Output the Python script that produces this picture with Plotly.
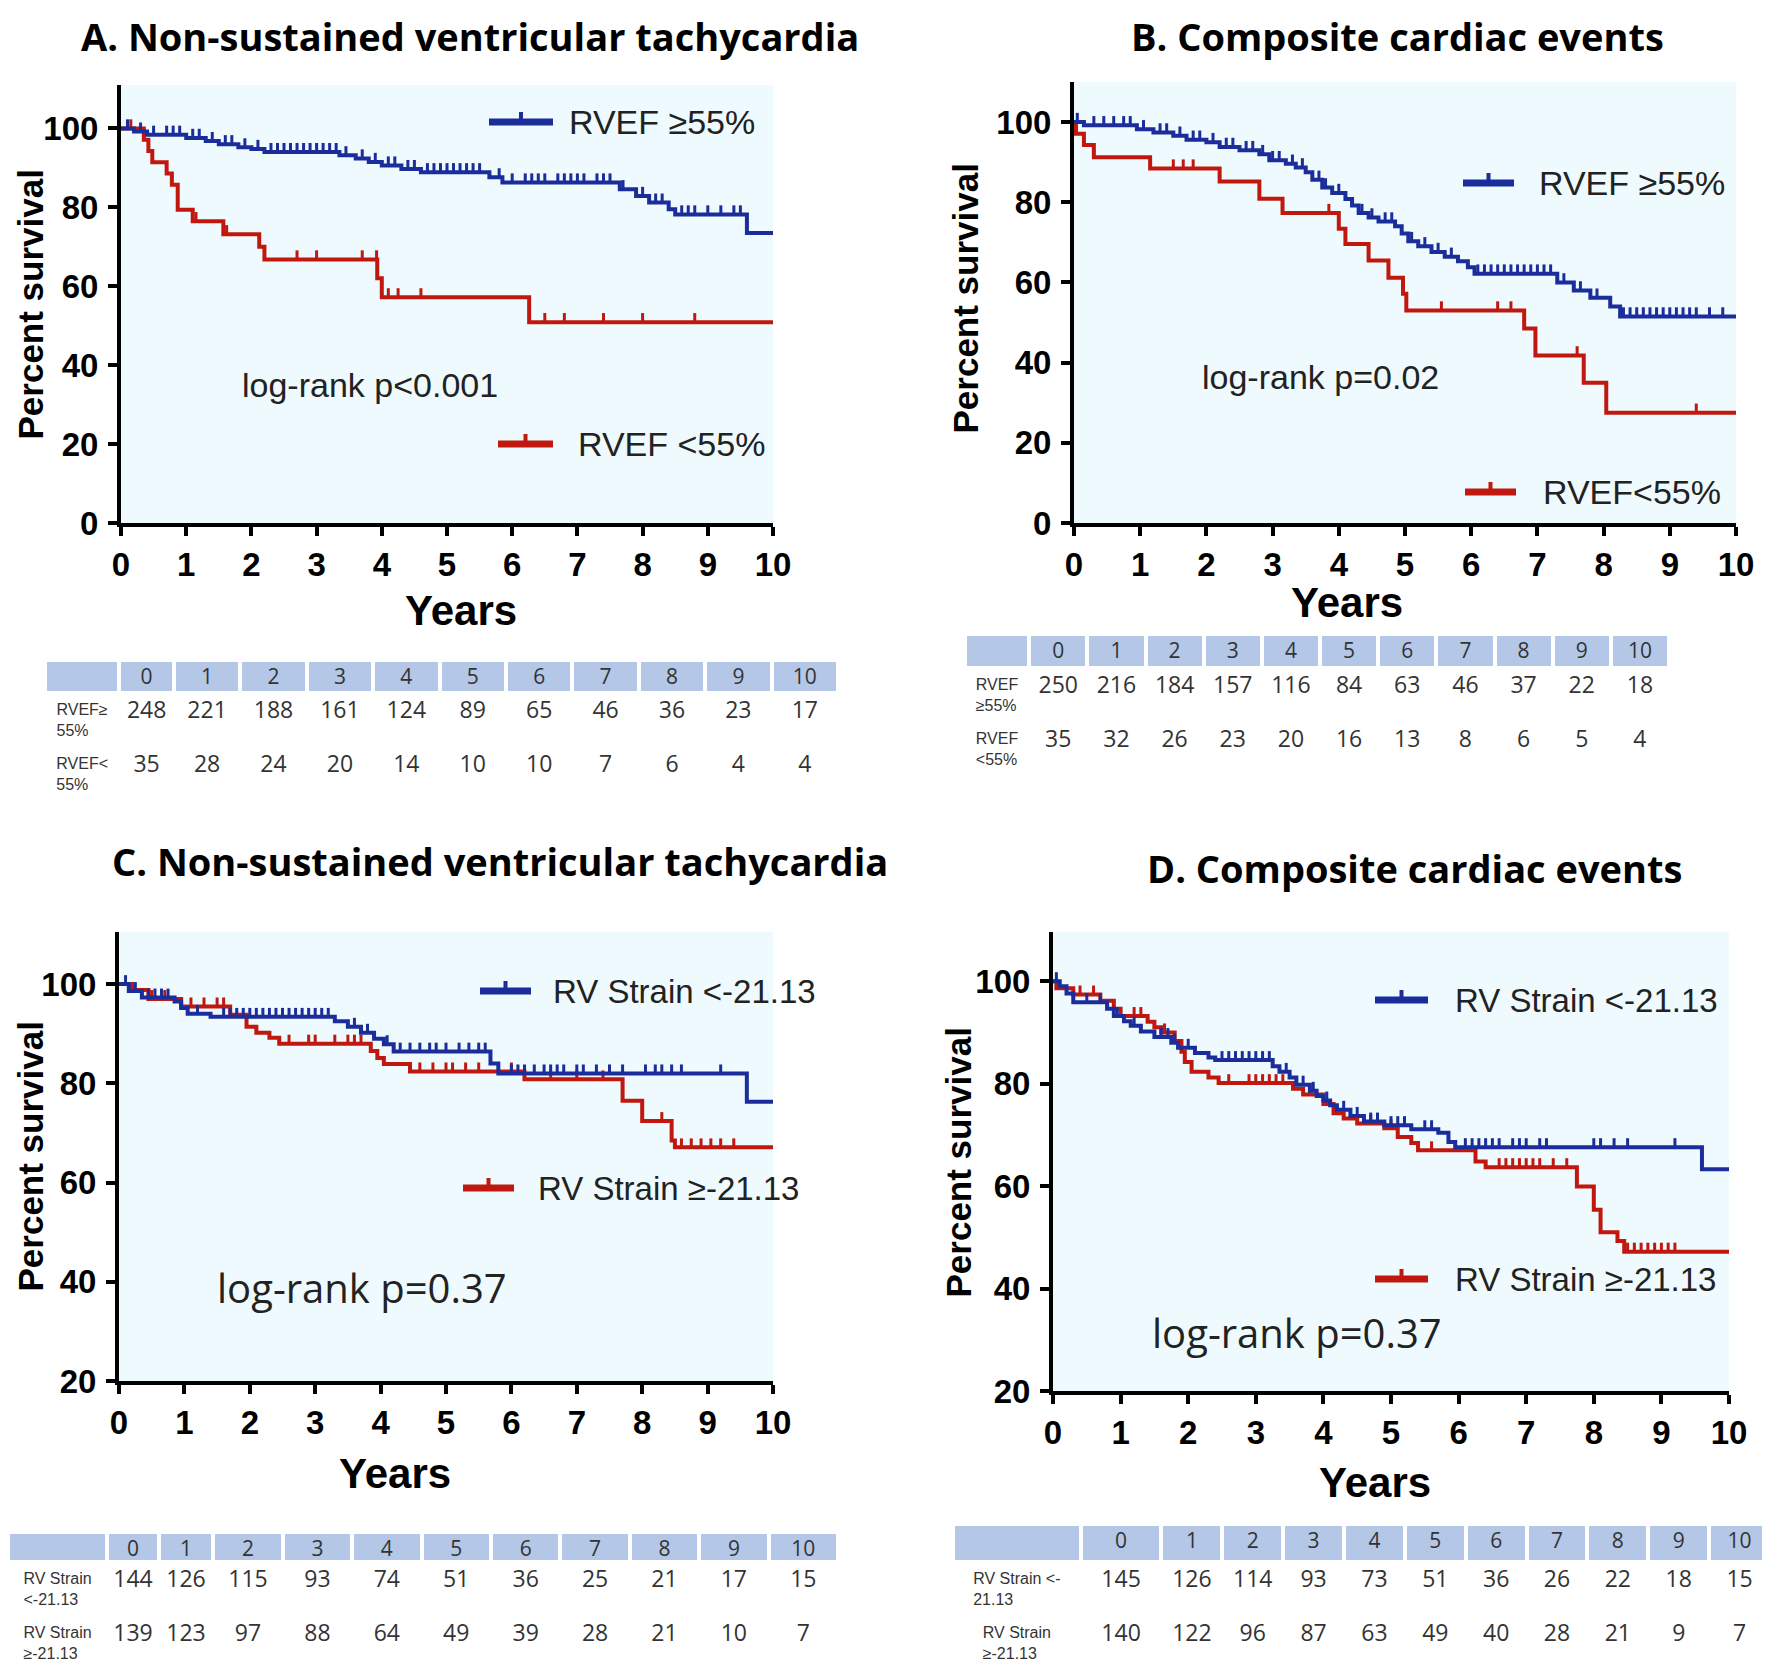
import plotly.graph_objects as go

# page body adds an 8px margin, so the figure is drawn 8px smaller and all pixel
# positions below (measured on the 1770x1670 screen) are shifted by that offset
OFF = 8
W, H = 1770 - OFF, 1670 - OFF
BLUE = "#1b2d9b"
RED = "#c0180f"
BG = "#eefafd"
HDR = "#b4c7e7"

# ---------------- data ----------------
years = [0, 1, 2, 3, 4, 5, 6, 7, 8, 9, 10]

# Panel A : NSVT by RVEF
A_hi_t = [0, 0.2, 0.4, 1.0, 1.3, 1.5, 1.8, 2.0, 2.2, 3.35, 3.6, 3.8, 4.0, 4.3, 4.6, 5.65, 5.85, 7.65, 7.9, 8.1, 8.4, 8.5, 9.6, 10]
A_hi_s = [100, 99.2, 98.4, 97.6, 96.8, 96.0, 95.2, 94.8, 94.0, 93.2, 92.4, 91.5, 90.6, 89.7, 88.9, 87.6, 86.3, 84.6, 82.9, 81.2, 79.5, 78.2, 73.5, 73.5]
A_hi_c = [0.1, 0.3, 0.5, 0.7, 0.8, 0.9, 1.1, 1.2, 1.4, 1.6, 1.7, 1.9, 2.1, 2.3, 2.4, 2.5, 2.6, 2.7, 2.8, 2.9, 3.0, 3.1, 3.2, 3.3,
          3.45, 3.7, 3.9, 4.1, 4.2, 4.4, 4.5, 4.7, 4.8, 4.9, 5.0, 5.1, 5.2, 5.3, 5.4, 5.5, 5.8, 6.0, 6.2, 6.3, 6.4, 6.5,
          6.7, 6.8, 6.9, 7.0, 7.1, 7.3, 7.4, 7.5, 7.7, 8.0, 8.2, 8.3, 8.6, 8.7, 8.8, 9.0, 9.2, 9.4, 9.5]
A_lo_t = [0, 0.35, 0.42, 0.48, 0.7, 0.78, 0.87, 1.1, 1.57, 2.12, 2.2, 3.93, 4.0, 6.26, 10]
A_lo_s = [100, 97.1, 94.3, 91.4, 88.6, 85.7, 79.4, 76.5, 73.2, 70.0, 66.8, 62.0, 57.2, 50.9, 50.9]
A_lo_c = [0.15, 1.15, 1.62, 2.7, 3.0, 3.7, 3.92, 4.1, 4.25, 4.6, 6.5, 6.8, 7.4, 8.0, 8.8]

# Panel B : composite events by RVEF
B_hi_t = [0, 0.15, 0.95, 1.2, 1.5, 1.7, 2.0, 2.2, 2.5, 2.8, 2.95, 3.2, 3.35, 3.5, 3.6, 3.75, 3.9, 4.1, 4.2, 4.3, 4.45,
          4.6, 4.85, 4.95, 5.05, 5.2, 5.4, 5.6, 5.8, 5.95, 6.05, 7.3, 7.55, 7.8, 8.1, 8.25, 10]
B_hi_s = [100, 99.2, 98.2, 97.4, 96.6, 95.6, 95.0, 93.8, 93.0, 92.0, 90.5, 89.6, 88.7, 87.5, 85.6, 83.7, 82.3, 80.8, 79.2,
          77.3, 76.2, 75.2, 74.0, 72.2, 70.3, 69.0, 67.6, 66.4, 65.3, 63.8, 62.2, 60.0, 58.0, 56.2, 54.0, 51.5, 51.5]
B_hi_c = [0.05, 0.3, 0.45, 0.6, 0.75, 0.85, 1.05, 1.3, 1.4, 1.6, 1.8, 1.9, 2.1, 2.3, 2.4, 2.6, 2.7, 2.85, 3.0, 3.1, 3.3,
          3.45, 3.7, 3.8, 4.0, 4.35, 4.5, 4.7, 4.8, 5.1, 5.3, 5.5, 5.7, 6.1, 6.2, 6.3, 6.4, 6.5, 6.6, 6.7, 6.8, 6.9,
          7.0, 7.1, 7.2, 7.4, 7.65, 7.9, 8.3, 8.4, 8.5, 8.6, 8.7, 8.8, 8.9, 9.0, 9.1, 9.2, 9.3, 9.4, 9.6, 9.8]
B_lo_t = [0, 0.03, 0.15, 0.3, 1.15, 2.2, 2.8, 3.15, 4.0, 4.1, 4.45, 4.75, 4.97, 5.02, 6.8, 6.97, 7.7, 8.04, 10]
B_lo_s = [100, 97.1, 94.3, 91.2, 88.4, 85.2, 80.9, 77.3, 73.4, 69.6, 65.5, 61.2, 57.2, 53.0, 48.5, 41.8, 35.0, 27.5, 27.5]
B_lo_c = [1.5, 1.65, 1.8, 3.85, 5.55, 6.4, 6.6, 7.6, 9.4]

# Panel C : NSVT by RV strain
C_hi_t = [0, 0.15, 0.35, 0.85, 0.95, 1.05, 1.4, 3.3, 3.5, 3.7, 3.9, 4.05, 4.2, 5.68, 5.8, 9.6, 10]
C_hi_s = [100, 98.6, 97.3, 96.5, 95.2, 94.0, 93.4, 92.5, 91.4, 90.2, 89.0, 87.9, 86.4, 84.0, 82.0, 76.3, 76.3]
C_hi_c = [0.1, 0.25, 0.45, 0.55, 0.65, 0.75, 1.2, 1.6, 1.7, 1.8, 1.9, 2.0, 2.1, 2.2, 2.3, 2.4, 2.5, 2.6, 2.7, 2.8, 2.9,
          3.0, 3.1, 3.2, 3.6, 3.8, 4.1, 4.3, 4.45, 4.6, 4.75, 4.85, 5.0, 5.2, 5.35, 5.5, 5.6, 6.0, 6.1, 6.2, 6.35, 6.5,
          6.6, 6.7, 6.8, 7.0, 7.1, 7.3, 7.5, 7.7, 8.05, 8.2, 8.3, 8.45, 8.6, 9.2]
C_lo_t = [0, 0.2, 0.45, 0.95, 1.7, 1.95, 2.1, 2.3, 2.45, 3.85, 3.95, 4.05, 4.45, 6.2, 7.7, 8.0, 8.45, 8.5, 10]
C_lo_s = [100, 98.8, 97.0, 95.5, 93.8, 91.4, 90.2, 89.2, 88.0, 86.5, 85.1, 83.9, 82.4, 80.8, 76.5, 72.4, 68.5, 67.1, 67.1]
C_lo_c = [0.5, 0.7, 1.1, 1.3, 1.5, 1.6, 2.6, 2.9, 3.0, 3.3, 3.5, 3.6, 3.7, 4.6, 4.8, 5.0, 5.1, 5.3, 5.5, 6.0, 6.6,
          7.0, 7.4, 8.3, 8.6, 8.75, 8.9, 9.05, 9.2, 9.4]

# Panel D : composite events by RV strain
D_hi_t = [0, 0.1, 0.2, 0.3, 0.8, 0.9, 1.05, 1.15, 1.3, 1.5, 1.75, 1.85, 2.1, 2.3, 2.4, 3.25, 3.35, 3.5, 3.6, 3.8, 3.9,
          4.0, 4.1, 4.2, 4.4, 4.6, 4.9, 5.3, 5.7, 5.85, 5.95, 9.6, 10]
D_hi_s = [100, 99.0, 97.6, 95.9, 94.6, 93.2, 92.2, 91.3, 90.2, 89.1, 88.0, 87.0, 86.0, 85.1, 84.6, 83.4, 82.3, 81.2,
          79.8, 78.6, 77.6, 76.7, 75.8, 74.9, 73.7, 72.6, 71.9, 71.1, 70.4, 68.6, 67.6, 63.3, 63.3]
D_hi_c = [0.05, 0.5, 0.7, 0.95, 1.2, 1.6, 1.7, 1.8, 2.0, 2.5, 2.6, 2.7, 2.8, 2.9, 3.0, 3.1, 3.2, 3.45, 3.7, 3.85,
          4.05, 4.3, 4.5, 4.7, 4.8, 5.0, 5.1, 5.2, 5.5, 5.6, 6.1, 6.2, 6.3, 6.4, 6.5, 6.6, 6.8, 6.9, 7.0, 7.2, 7.3,
          8.0, 8.1, 8.3, 8.5, 9.2]
D_lo_t = [0, 0.05, 0.3, 0.7, 0.9, 1.0, 1.4, 1.5, 1.6, 1.8, 1.9, 1.95, 2.05, 2.3, 2.45, 3.55, 3.7, 4.0, 4.15, 4.3, 4.5,
          4.9, 5.1, 5.3, 5.4, 6.25, 6.4, 7.75, 8.0, 8.1, 8.35, 8.45, 10]
D_lo_s = [100, 98.6, 97.4, 96.2, 94.6, 93.2, 92.1, 91.0, 90.0, 88.3, 86.2, 84.2, 82.3, 81.2, 80.1, 79.0, 77.9, 76.0,
          74.2, 73.2, 72.2, 71.3, 69.6, 68.4, 67.0, 64.8, 63.7, 59.9, 55.4, 51.0, 49.3, 47.2, 47.2]
D_lo_c = [0.4, 0.6, 1.2, 1.3, 1.65, 2.6, 2.9, 3.0, 3.1, 3.2, 3.3, 3.4, 3.8, 4.4, 4.7, 5.0, 5.6, 6.6, 6.7, 6.8, 6.9,
          7.0, 7.1, 7.2, 7.4, 7.6, 8.5, 8.6, 8.7, 8.8, 8.9, 9.0, 9.1, 9.2]

# numbers at risk
A_risk_hi = [248, 221, 188, 161, 124, 89, 65, 46, 36, 23, 17]
A_risk_lo = [35, 28, 24, 20, 14, 10, 10, 7, 6, 4, 4]
B_risk_hi = [250, 216, 184, 157, 116, 84, 63, 46, 37, 22, 18]
B_risk_lo = [35, 32, 26, 23, 20, 16, 13, 8, 6, 5, 4]
C_risk_hi = [144, 126, 115, 93, 74, 51, 36, 25, 21, 17, 15]
C_risk_lo = [139, 123, 97, 88, 64, 49, 39, 28, 21, 10, 7]
D_risk_hi = [145, 126, 114, 93, 73, 51, 36, 26, 22, 18, 15]
D_risk_lo = [140, 122, 96, 87, 63, 49, 40, 28, 21, 9, 7]

titles = ["A. Non-sustained ventricular tachycardia", "B. Composite cardiac events",
          "C. Non-sustained ventricular tachycardia", "D. Composite cardiac events"]
legend_hi = ["RVEF ≥55%", "RVEF ≥55%", "RV Strain <-21.13", "RV Strain <-21.13"]
legend_lo = ["RVEF <55%", "RVEF<55%", "RV Strain ≥-21.13", "RV Strain ≥-21.13"]
pvals = ["log-rank p<0.001", "log-rank p=0.02", "log-rank p=0.37", "log-rank p=0.37"]
row_labels = [["RVEF≥<br>55%", "RVEF<<br>55%"], ["RVEF<br>≥55%", "RVEF<br><55%"],
              ["RV Strain<br><-21.13", "RV Strain<br>≥-21.13"], ["RV Strain <-<br>21.13", "RV Strain<br>≥-21.13"]]


def surv_at(times, vals, t):
    v = vals[0]
    for ti, vi in zip(times, vals):
        if ti <= t:
            v = vi
    return v


def px(x):
    return (x - OFF) / W


def py(y):
    v = 1 - (y - OFF) / H
    return min(1.0, max(0.0, v))


# ---------------- layout geometry (screen pixels) ----------------
panels = [
    dict(curves=(A_hi_t, A_hi_s, A_hi_c, A_lo_t, A_lo_s, A_lo_c), risk=(A_risk_hi, A_risk_lo),
         x0=121, x1=773, ytop=85, ybot=523, yr=[0, 111], ytv=[0, 20, 40, 60, 80, 100], tick=2.3,
         title=(470, OFF, "top"), years=(461, 610), ylab=(20, 305),
         leg_hi=(489, 553, 122, 567), leg_lo=(498, 553, 444, 576), pv=(370, 385, "Arial", 34),
         tab=(45, 838, 660, 33, 51), cw=[75, 55] + [67] * 10),
    dict(curves=(B_hi_t, B_hi_s, B_hi_c, B_lo_t, B_lo_s, B_lo_c), risk=(B_risk_hi, B_risk_lo),
         x0=1074, x1=1736, ytop=82, ybot=523, yr=[0, 110], ytv=[0, 20, 40, 60, 80, 100], tick=2.3,
         title=(1397, OFF, "top"), years=(1347, 602), ylab=(955, 299),
         leg_hi=(1463, 1514, 183, 1537), leg_lo=(1465, 1516, 492, 1541), pv=(1320, 377, "Arial", 34),
         tab=(965, 1669, 634, 34, 48), cw=[64] + [58] * 11),
    dict(curves=(C_hi_t, C_hi_s, C_hi_c, C_lo_t, C_lo_s, C_lo_c), risk=(C_risk_hi, C_risk_lo),
         x0=119, x1=773, ytop=932, ybot=1381, yr=[20, 110.5], ytv=[20, 40, 60, 80, 100], tick=1.8,
         title=(500, 861, "middle"), years=(395, 1473), ylab=(20, 1157),
         leg_hi=(480, 531, 991, 551), leg_lo=(463, 514, 1188, 536), pv=(362, 1287, "Open Sans", 40),
         tab=(6, 838, 1532, 30, 49), cw=[100, 52, 55] + [70] * 9),
    dict(curves=(D_hi_t, D_hi_s, D_hi_c, D_lo_t, D_lo_s, D_lo_c), risk=(D_risk_hi, D_risk_lo),
         x0=1053, x1=1729, ytop=932, ybot=1391, yr=[20, 109.6], ytv=[20, 40, 60, 80, 100], tick=1.75,
         title=(1414, 868, "middle"), years=(1375, 1482), ylab=(948, 1163),
         leg_hi=(1375, 1428, 1000, 1453), leg_lo=(1375, 1428, 1279, 1453), pv=(1297, 1332, "Open Sans", 40),
         tab=(953, 1770, 1524, 38, 49), cw=[128, 81] + [61] * 10),
]

fig = go.Figure()
layout = dict(width=W, height=H, margin=dict(l=0, r=0, t=0, b=0, autoexpand=False), paper_bgcolor="white",
              plot_bgcolor=BG, showlegend=False)
annotations = []
shapes = []

TICKFONT = dict(family="Arial", size=33, color="black", weight="bold")
YLAB_SIZE = 35
YLAB_PAD = 12  # gap between rotated text box edge and glyph cap line

for i, p in enumerate(panels):
    k = "" if i == 0 else str(i + 1)
    xa, ya = "x" + k, "y" + k
    common = dict(ticks="outside", ticklen=9, tickwidth=3.5, tickcolor="black", showline=True, linecolor="black",
                  linewidth=4, showgrid=False, zeroline=False, tickfont=TICKFONT, fixedrange=True, automargin=False)
    layout["xaxis" + k] = dict(domain=[px(p["x0"]), px(p["x1"])], range=[0, 10], anchor=ya, tickvals=years, **common)
    layout["yaxis" + k] = dict(domain=[py(p["ybot"]), py(p["ytop"])], range=p["yr"], anchor=xa,
                               tickvals=p["ytv"], ticklabelstandoff=3, **common)
    hi_t, hi_s, hi_c, lo_t, lo_s, lo_c = p["curves"]
    for (t, s, c, col) in [(lo_t, lo_s, lo_c, RED), (hi_t, hi_s, hi_c, BLUE)]:
        fig.add_trace(go.Scatter(x=t, y=s, mode="lines", line=dict(color=col, width=4, shape="hv"),
                                 xaxis=xa, yaxis=ya, hoverinfo="skip"))
        fig.add_trace(go.Scatter(x=c, y=[surv_at(t, s, ci) for ci in c], mode="markers",
                                 marker=dict(size=1, color=col, opacity=0),
                                 error_y=dict(type="data", symmetric=False, array=[p["tick"]] * len(c),
                                              arrayminus=[0] * len(c), width=0, thickness=3, color=col),
                                 xaxis=xa, yaxis=ya, hoverinfo="skip"))

    # titles and axis titles
    tx, ty, tanc = p["title"]
    annotations.append(dict(text="<b>" + titles[i] + "</b>", x=px(tx), y=py(ty),
                            xref="paper", yref="paper", showarrow=False, xanchor="center", yanchor=tanc,
                            font=dict(family="Open Sans", size=38, color="black")))
    annotations.append(dict(text="<b>Years</b>", x=px(p["years"][0]), y=py(p["years"][1]),
                            xref="paper", yref="paper", showarrow=False, xanchor="center", yanchor="middle",
                            font=dict(family="Arial", size=42, color="black")))
    annotations.append(dict(text="<b>Percent survival</b>", x=px(p["ylab"][0] - YLAB_PAD), y=py(p["ylab"][1]),
                            xref="paper", yref="paper", showarrow=False, xanchor="left", yanchor="middle",
                            textangle=-90, font=dict(family="Arial", size=YLAB_SIZE, color="black")))
    # legends
    for (lx0, lx1, ly, lt), txt, col in [(p["leg_hi"], legend_hi[i], BLUE), (p["leg_lo"], legend_lo[i], RED)]:
        shapes.append(dict(type="line", xref="paper", yref="paper", x0=px(lx0), x1=px(lx1), y0=py(ly), y1=py(ly),
                           line=dict(color=col, width=7)))
        mx = (lx0 + lx1) / 2
        shapes.append(dict(type="line", xref="paper", yref="paper", x0=px(mx), x1=px(mx), y0=py(ly), y1=py(ly - 10),
                           line=dict(color=col, width=4)))
        annotations.append(dict(text=txt, x=px(lt), y=py(ly), xref="paper", yref="paper", showarrow=False,
                                xanchor="left", yanchor="middle",
                                font=dict(family="Arial", size=34 if i < 2 else 33, color="#222")))
    pvx, pvy, pvf, pvs = p["pv"]
    annotations.append(dict(text=pvals[i], x=px(pvx), y=py(pvy), xref="paper", yref="paper", showarrow=False,
                            xanchor="center", yanchor="middle", font=dict(family=pvf, size=pvs, color="#222")))

    # risk table
    tx0, tx1, ty0, hh, ch = p["tab"]
    rhi, rlo = p["risk"]
    cols = [row_labels[i]] + [[str(a), str(b)] for a, b in zip(rhi, rlo)]
    fig.add_trace(go.Table(
        domain=dict(x=[max(0.0, px(tx0)), min(1.0, px(tx1))], y=[py(ty0 + hh + 2 * ch + 20), py(ty0)]),
        columnwidth=p["cw"],
        header=dict(values=[""] + [str(y) for y in years], fill_color=HDR, line=dict(color="white", width=4),
                    height=hh, align="center", font=dict(family="Open Sans", size=21, color="#333")),
        cells=dict(values=cols, fill_color="white", line=dict(color="white", width=1), height=ch,
                   align="center", font=dict(family=["Arial"] + ["Open Sans"] * 11,
                                             size=[16] + [23] * 11, color="#333")),
    ))

layout["annotations"] = annotations
layout["shapes"] = shapes
fig.update_layout(**layout)
fig.write_html("out.html")
